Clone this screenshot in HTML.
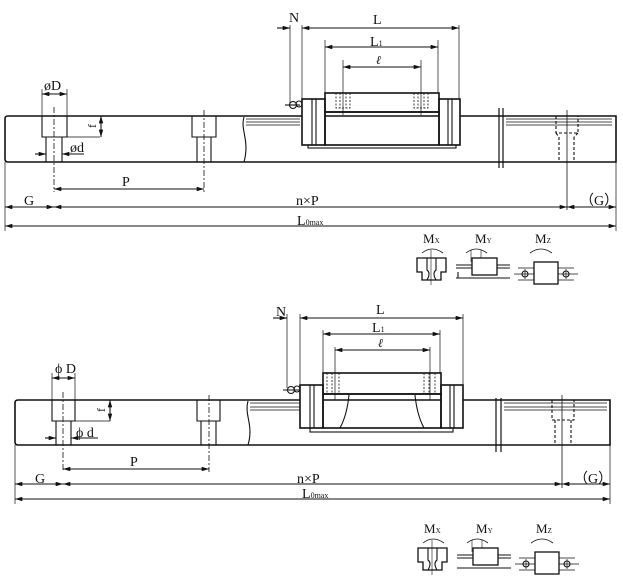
<!DOCTYPE html>
<html><head><meta charset="utf-8"><style>
html,body{margin:0;padding:0;background:#fff;}
svg{display:block;}
text{font-family:"Liberation Serif",serif;fill:#111;}
</style></head><body>
<svg width="623" height="586" viewBox="0 0 623 586" xmlns="http://www.w3.org/2000/svg">
<defs>
<marker id="a" viewBox="0 0 10 6" refX="10" refY="3" markerWidth="8" markerHeight="4" orient="auto-start-reverse"><path d="M0,0L10,3L0,6z" fill="#111"/></marker>
</defs>
<g stroke="#111" fill="none" stroke-width="1.1">
<!-- ===== TOP ===== -->
<path d="M8,116H616V162H8Q5,162 5,159V119Q5,116 8,116Z" stroke-width="1.6"/>
<path d="M42,116V137H67V116M46,137V162M62,137V162"/>
<path d="M192,116V137H216V116M197,137V162M211,137V162"/>
<path d="M54,107V192M204,110V192" stroke-dasharray="6,2,2,2" stroke-width="0.8"/>
<path d="M244,117C240,130 250,140 244,162" />
<path d="M246,119H300M246,122H300M246,125H300M506,119H612M506,122H612M506,125H612" stroke-width="0.7"/>
<path d="M556,116V133H578V116M559,137V162M574,137V162M556,133L559,137M578,133L574,137" stroke-dasharray="3,2"/>
<path d="M567,110V210" stroke-width="0.8"/>
<path d="M499,108V168M503,108V168" stroke-width="1.2"/>
<rect x="302" y="99" width="23" height="46" fill="#fff" stroke-width="1.6"/>
<rect x="439" y="99" width="21" height="46" fill="#fff" stroke-width="1.6"/>
<rect x="308" y="145" width="148" height="3"/>
<rect x="325" y="93" width="114" height="19" stroke-width="1.6"/>
<rect x="325" y="112" width="114" height="33" stroke-width="1.6"/>
<path d="M312,99V145M316,99V145M448,99V145M452,99V145"/>
<path d="M336,93V108H350V93M340,93V108M346,93V108M414,93V108H428V93M418,93V108M424,93V108" stroke-dasharray="2,1.5" stroke-width="0.8"/>
<path d="M343,60V115M421,60V115" stroke-width="0.7"/>
<circle cx="293" cy="105" r="3.5"/><circle cx="299" cy="104" r="3"/>
<path d="M285,105H300"/>
<path d="M290,25V103M302,25V99M459,25V99M325,40V93M438,40V93M42,89V116M67,89V116M67,137H100M5,162V231M616,162V231M35,154H46" stroke-width="0.7"/>
<path d="M277,28H290" marker-end="url(#a)"/>
<path d="M302,28H459" marker-start="url(#a)" marker-end="url(#a)"/>
<path d="M325,47H438" marker-start="url(#a)" marker-end="url(#a)"/>
<path d="M343,67H421" marker-start="url(#a)" marker-end="url(#a)"/>
<path d="M42,94H67" marker-start="url(#a)" marker-end="url(#a)"/>
<path d="M101,116V137" marker-start="url(#a)" marker-end="url(#a)"/>
<path d="M35,154H46" marker-end="url(#a)"/>
<path d="M84,154H62" marker-end="url(#a)"/>
<path d="M54,189H204" marker-start="url(#a)" marker-end="url(#a)"/>
<path d="M5,207H54" marker-start="url(#a)" marker-end="url(#a)"/>
<path d="M54,207H567" marker-start="url(#a)" marker-end="url(#a)"/>
<path d="M567,207H616" marker-start="url(#a)" marker-end="url(#a)"/>
<path d="M5,226H616" marker-start="url(#a)" marker-end="url(#a)"/>

<!-- ===== BOTTOM ===== -->
<path d="M18,400H610V445H18Q15,445 15,442V403Q15,400 18,400Z" stroke-width="1.6"/>
<path d="M52,400V421H75V400M56,421V445M71,421V445"/>
<path d="M197,400V421H220V400M201,421V445M216,421V445"/>
<path d="M63,392V470M209,395V472" stroke-dasharray="6,2,2,2" stroke-width="0.8"/>
<path d="M248,401C244,415 254,425 248,445"/>
<path d="M250,403H300M250,407H300M250,410H300M504,403H607M504,407H607M504,410H607" stroke-width="0.7"/>
<path d="M552,400V420H574V400M555,420V445M571,420V445" stroke-dasharray="3,2"/>
<path d="M562,395V488" stroke-width="0.8"/>
<path d="M496,398V452M501,398V452" stroke-width="1.2"/>
<rect x="300" y="385" width="23" height="43" fill="#fff" stroke-width="1.6"/>
<rect x="441" y="385" width="22" height="43" fill="#fff" stroke-width="1.6"/>
<rect x="310" y="428" width="143" height="4"/>
<rect x="323" y="373" width="118" height="21" stroke-width="1.6"/>
<rect x="323" y="394" width="118" height="34" stroke-width="1.6"/>
<path d="M310,385V428M314,385V428M450,385V428M454,385V428"/>
<path d="M349,395Q347,415 340,428M415,395Q417,415 424,428"/>
<path d="M327,373V394M332,373V394M339,373V394M424,373V394M429,373V394M435,373V394" stroke-dasharray="2,1.5" stroke-width="0.8"/>
<path d="M335,347V400M430,347V400" stroke-width="0.7"/>
<circle cx="291" cy="390" r="3.5"/><circle cx="297" cy="389" r="3"/>
<path d="M283,390H300"/>
<path d="M287,314V388M300,314V385M463,314V385M323,330V373M440,330V373M52,373V400M75,373V400M75,421H110M15,445V504M610,445V504" stroke-width="0.7"/>
<path d="M273,318H287" marker-end="url(#a)"/>
<path d="M300,318H463" marker-start="url(#a)" marker-end="url(#a)"/>
<path d="M323,334H440" marker-start="url(#a)" marker-end="url(#a)"/>
<path d="M335,350H430" marker-start="url(#a)" marker-end="url(#a)"/>
<path d="M52,378H75" marker-start="url(#a)" marker-end="url(#a)"/>
<path d="M110,400V421" marker-start="url(#a)" marker-end="url(#a)"/>
<path d="M45,438H56" marker-end="url(#a)"/>
<path d="M98,438H71" marker-end="url(#a)"/>
<path d="M63,469H209" marker-start="url(#a)" marker-end="url(#a)"/>
<path d="M15,484H63" marker-start="url(#a)" marker-end="url(#a)"/>
<path d="M63,484H562" marker-start="url(#a)" marker-end="url(#a)"/>
<path d="M562,484H610" marker-start="url(#a)" marker-end="url(#a)"/>
<path d="M15,499H610" marker-start="url(#a)" marker-end="url(#a)"/>

<g>
<path d="M422,253Q432,245 443,253M466,253Q476,245 487,253M530,253Q541,245 552,253" stroke-width="0.8"/>
<path d="M417,258H446V272H441V280H422V272H417Z" stroke-width="1.3"/>
<path d="M427,258V270Q431,273 427,280M436,258V270Q432,273 436,280" />
<path d="M431,250V285M471,250V262M481,250V262" stroke-width="0.6"/>
<path d="M456,265H510M456,268H510M456,278H510M458,278V272"/>
<rect x="472" y="258" width="25" height="17" fill="#fff" stroke-width="1.3"/>
<path d="M518,268H574M518,280H574M514,274H578" stroke-width="0.7"/>
<rect x="534" y="262" width="24" height="22" fill="#fff" stroke-width="1.3"/>
<circle cx="525" cy="274" r="3"/><circle cx="566" cy="274" r="3"/>
<path d="M525,269V279M566,269V279" stroke-width="0.7"/>
</g>
<g transform="translate(1,290)">
<path d="M422,253Q432,245 443,253M466,253Q476,245 487,253M530,253Q541,245 552,253" stroke-width="0.8"/>
<path d="M417,258H446V272H441V280H422V272H417Z" stroke-width="1.3"/>
<path d="M427,258V270Q431,273 427,280M436,258V270Q432,273 436,280"/>
<path d="M431,250V285M471,250V262M481,250V262" stroke-width="0.6"/>
<path d="M456,265H510M456,268H510M456,278H510"/>
<rect x="472" y="258" width="25" height="17" fill="#fff" stroke-width="1.3"/>
<path d="M518,268H574M518,280H574M514,274H578" stroke-width="0.7"/>
<rect x="534" y="262" width="24" height="22" fill="#fff" stroke-width="1.3"/>
<circle cx="525" cy="274" r="3"/><circle cx="566" cy="274" r="3"/>
<path d="M525,269V279M566,269V279" stroke-width="0.7"/>
</g>
</g>
<g font-size="14">
<text x="289" y="22">N</text>
<text x="373" y="24">L</text>
<text x="370" y="46">L<tspan font-size="8">1</tspan></text>
<text x="376" y="64" font-style="italic" font-size="12">ℓ</text>
<text x="44" y="90">øD</text>
<text x="70" y="152">ød</text>
<text x="96" y="128" transform="rotate(-90 96 128)" font-size="12">f</text>
<text x="122" y="186">P</text>
<text x="24" y="205">G</text>
<text x="296" y="205">n×P</text>
<text x="580" y="205">（G）</text>
<text x="297" y="225">L<tspan font-size="8">0max</tspan></text>
<text x="423" y="243" font-size="13">M<tspan font-size="7">X</tspan></text>
<text x="475" y="243" font-size="13">M<tspan font-size="7">Y</tspan></text>
<text x="535" y="243" font-size="13">M<tspan font-size="7">Z</tspan></text>
<text x="276" y="316">N</text>
<text x="376" y="314">L</text>
<text x="372" y="332">L<tspan font-size="8">1</tspan></text>
<text x="378" y="347" font-style="italic" font-size="12">ℓ</text>
<text x="55" y="373">ϕ D</text>
<text x="76" y="437">ϕ d</text>
<text x="105" y="412" transform="rotate(-90 105 412)" font-size="12">f</text>
<text x="130" y="466">P</text>
<text x="35" y="483">G</text>
<text x="297" y="483">n×P</text>
<text x="574" y="483">（G）</text>
<text x="302" y="498">L<tspan font-size="8">0max</tspan></text>
<text x="424" y="533" font-size="13">M<tspan font-size="7">X</tspan></text>
<text x="476" y="533" font-size="13">M<tspan font-size="7">Y</tspan></text>
<text x="536" y="533" font-size="13">M<tspan font-size="7">Z</tspan></text>
</g>
</svg>
</body></html>
